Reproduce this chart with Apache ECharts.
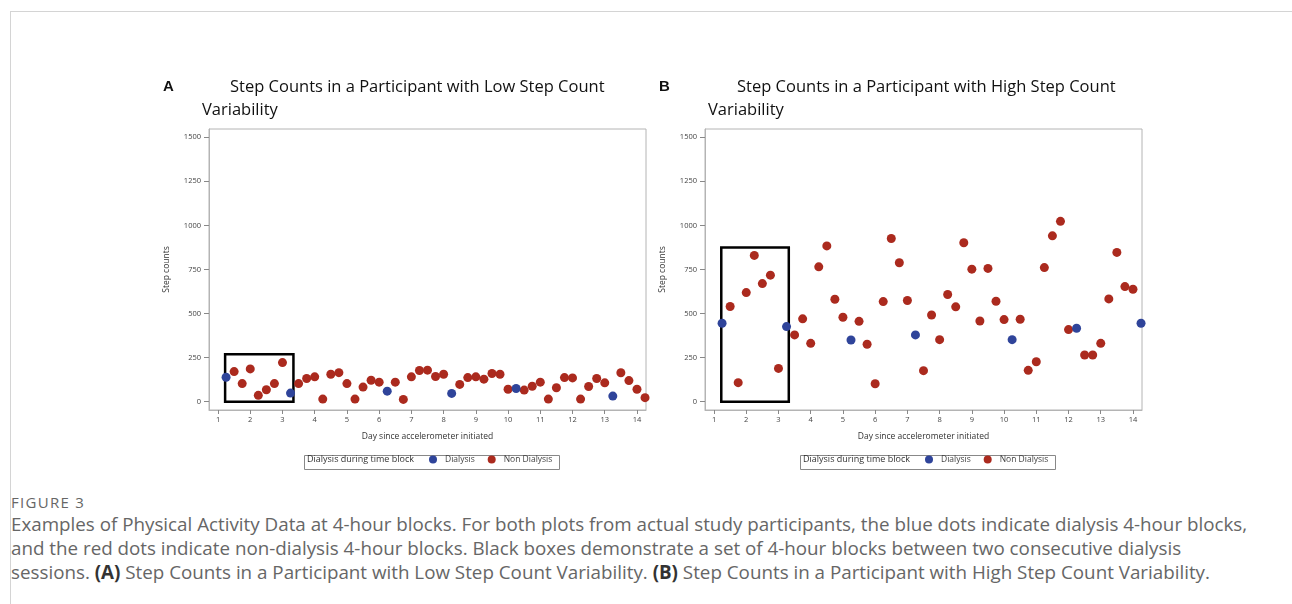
<!DOCTYPE html>
<html lang="en">
<head>
<meta charset="UTF-8">
<title>Figure 3 - Step counts</title>
<script src="https://cdn.jsdelivr.net/npm/echarts@6/dist/echarts.min.js"></script>
<style>
  body { margin: 0; background: #fff; font-family: "Open Sans", sans-serif; }
  #card { position: absolute; left: 10px; top: 11px; width: 1300px; height: 700px; border: 1px solid #d4d4d4; }
  #main { position: absolute; left: 0; top: 0; width: 1292px; height: 480px; }
  #caption { position: absolute; left: 11px; top: 492px; color: #666; white-space: nowrap; }
  #caption .fig { font-size: 15px; line-height: 20px; letter-spacing: 1.3px; }
  #caption .txt { font-size: 18.8px; line-height: 24px; margin-top: 0px; }
  #caption b { color: #333; }
</style>
</head>
<body>
<div id="card"></div>
<div id="main"></div>
<div id="caption">
  <div class="fig">FIGURE 3</div>
  <div class="txt">Examples of Physical Activity Data at 4-hour blocks. For both plots from actual study participants, the blue dots indicate dialysis 4-hour blocks,<br>and the red dots indicate non-dialysis 4-hour blocks. Black boxes demonstrate a set of 4-hour blocks between two consecutive dialysis<br>sessions. <b>(A)</b> Step Counts in a Participant with Low Step Count Variability. <b>(B)</b> Step Counts in a Participant with High Step Count Variability.</div>
</div>
<script>
// 4-hour blocks, day since accelerometer initiated
const days = [1.25, 1.5, 1.75, 2, 2.25, 2.5, 2.75, 3, 3.25, 3.5, 3.75, 4, 4.25, 4.5, 4.75,
  5, 5.25, 5.5, 5.75, 6, 6.25, 6.5, 6.75, 7, 7.25, 7.5, 7.75, 8, 8.25, 8.5, 8.75,
  9, 9.25, 9.5, 9.75, 10, 10.25, 10.5, 10.75, 11, 11.25, 11.5, 11.75, 12, 12.25, 12.5, 12.75,
  13, 13.25, 13.5, 13.75, 14, 14.25];

// panel A - low variability
const stepsA = [139, 171, 103, 186, 36, 68, 103, 222, 49, 103, 132, 141, 15, 156, 165,
  103, 15, 83, 122, 111, 60, 111, 13, 141, 177, 179, 143, 156, 47, 98, 137,
  141, 128, 160, 156, 71, 75, 66, 88, 111, 15, 79, 137, 135, 15, 86, 132,
  107, 32, 164, 120, 71, 23];
const dialysisDaysA = [1.25, 3.25, 6.25, 8.25, 10.25, 13.25];
const boxA = [[1.22, 0], [3.34, 269]];

// panel B - high variability
const stepsB = [445, 540, 108, 619, 830, 670, 718, 189, 426, 379, 470, 331, 765, 884, 581,
  479, 350, 456, 326, 102, 568, 926, 788, 574, 379, 176, 492, 352, 608, 538, 902,
  752, 458, 756, 570, 466, 352, 468, 178, 227, 761, 941, 1023, 409, 417, 265, 265,
  331, 583, 847, 653, 638, 445];
const dialysisDaysB = [1.25, 3.25, 5.25, 7.25, 10.25, 12.25, 14.25];
const boxB = [[1.225, 0], [3.32, 875]];

const xTicks = [1, 2, 3, 4, 5, 6, 7, 8, 9, 10, 11, 12, 13, 14];
const yTicks = [0, 250, 500, 750, 1000, 1250, 1500];

const blue = '#2f449a';
const red = '#ab2a1e';

function pts(steps, dialDays, wantDialysis) {
  const out = [];
  days.forEach((d, i) => {
    if (dialDays.includes(d) === wantDialysis) out.push([d, steps[i]]);
  });
  return out;
}

const myChart = echarts.init(document.getElementById('main'));

const panels = [
  { left: 209, steps: stepsA, dial: dialysisDaysA, box: boxA, letter: 'A', tx: 230, vx: 202,
    title: 'Step Counts in a Participant with Low Step Count' },
  { left: 705, steps: stepsB, dial: dialysisDaysB, box: boxB, letter: 'B', tx: 737, vx: 708,
    title: 'Step Counts in a Participant with High Step Count' }
];

const grids = [], xAxes = [], yAxes = [], series = [], legends = [], titles = [], graphics = [];

panels.forEach((p, k) => {
  grids.push({ left: p.left, top: 129, width: 437, height: 281, show: true,
    borderColor: '#b4b4b4', borderWidth: 1, backgroundColor: '#fff' });
  xAxes.push({
    gridIndex: k, type: 'value', min: 0.72, max: 14.28,
    name: 'Day since accelerometer initiated', nameLocation: 'middle', nameGap: 22,
    nameTextStyle: { fontSize: 8.5, color: '#333' },
    axisLine: { show: true, onZero: false, lineStyle: { color: '#b4b4b4' } },
    axisTick: { show: true, length: 4, customValues: xTicks, lineStyle: { color: '#888' } },
    axisLabel: { customValues: xTicks, fontSize: 7.5, color: '#444', margin: 6 },
    splitLine: { show: false }
  });
  yAxes.push({
    gridIndex: k, type: 'value', min: -47, max: 1547,
    name: 'Step counts', nameLocation: 'middle', nameGap: 38, nameRotate: 90,
    nameTextStyle: { fontSize: 8.5, color: '#333' },
    axisLine: { show: true, lineStyle: { color: '#b4b4b4' } },
    axisTick: { show: true, length: 5, customValues: yTicks, lineStyle: { color: '#888' } },
    axisLabel: { customValues: yTicks, fontSize: 7.5, color: '#444', margin: 8,
      formatter: v => String(v) },
    splitLine: { show: false }
  });
  series.push({
    name: 'Non Dialysis', type: 'scatter', xAxisIndex: k, yAxisIndex: k, clip: false,
    symbolSize: 9, itemStyle: { color: red, opacity: 1 },
    data: pts(p.steps, p.dial, false),
    markArea: {
      silent: true,
      itemStyle: { color: 'rgba(0,0,0,0)', borderColor: '#000', borderWidth: 2.5 },
      data: [[{ coord: p.box[0] }, { coord: p.box[1] }]]
    }
  });
  series.push({
    name: 'Dialysis', type: 'scatter', xAxisIndex: k, yAxisIndex: k, clip: false,
    symbolSize: 9, itemStyle: { color: blue, opacity: 1 },
    data: pts(p.steps, p.dial, true)
  });
  legends.push({
    data: ['Dialysis', 'Non Dialysis'], left: p.left + 220, top: 455,
    icon: 'circle', itemWidth: 8, itemHeight: 8, itemGap: 13,
    textStyle: { fontSize: 8.5, color: '#444', padding: [0, 0, 0, 3] },
    selectedMode: false, padding: 0
  });
  titles.push({ text: p.letter, left: p.left - 46, top: 79,
    textStyle: { fontFamily: 'Liberation Sans', fontWeight: 'bold', fontSize: 15, color: '#111' }, padding: 0 });
  titles.push({ text: p.title, left: p.tx, top: 79,
    textStyle: { fontFamily: 'Open Sans', fontWeight: 'normal', fontSize: 16.5, color: '#111' }, padding: 0 });
  titles.push({ text: 'Variability', left: p.vx, top: 102,
    textStyle: { fontFamily: 'Open Sans', fontWeight: 'normal', fontSize: 16.5, color: '#111' }, padding: 0 });
  graphics.push({ type: 'rect', left: p.left + 93, top: 453,
    shape: { width: 255, height: 14 }, style: { fill: 'none', stroke: '#888', lineWidth: 1 } });
  graphics.push({ type: 'text', left: p.left + 98, top: 455,
    style: { text: 'Dialysis during time block', fontSize: 9, fill: '#333', fontFamily: 'Open Sans' } });
});

const option = {
  animation: false,
  textStyle: { fontFamily: 'Open Sans' },
  title: titles,
  grid: grids,
  xAxis: xAxes,
  yAxis: yAxes,
  legend: legends,
  graphic: graphics,
  series: series
};

myChart.setOption(option);
</script>
</body>
</html>
